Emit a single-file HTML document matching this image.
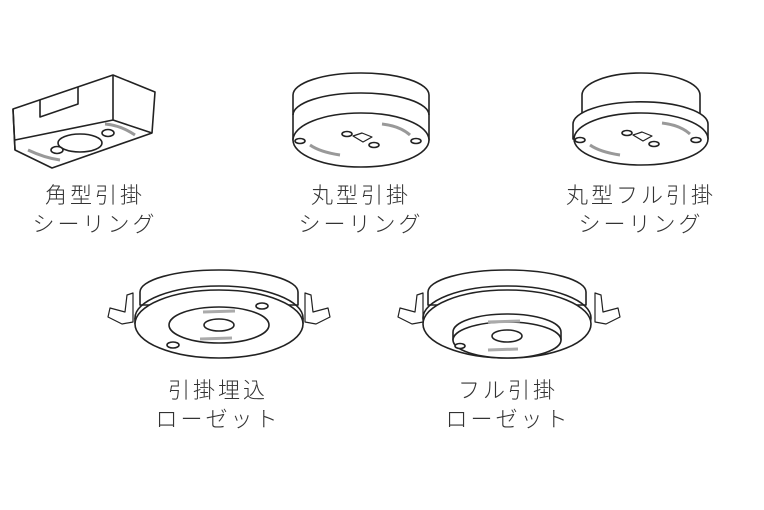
<!DOCTYPE html>
<html><head><meta charset="utf-8"><style>
html,body{margin:0;padding:0;background:#fff;}
svg{display:block}
text{font-family:"Liberation Sans","Noto Sans CJK JP",sans-serif;font-size:22px;fill:#333;text-anchor:middle;letter-spacing:3px;font-weight:300}
</style></head><body>
<svg width="764" height="510" viewBox="0 0 764 510" xmlns="http://www.w3.org/2000/svg">
<g fill="#fff" stroke="#222" stroke-width="1.6" stroke-linejoin="round">
<!-- box -->
<path d="M13,109 L113,75 L155,92 L152,133 L52,168 L15,150 Z"/>
<path d="M113,75 L113,120 L152,133" fill="none"/>
<path d="M15,140 L113,120" fill="none"/>
<path d="M13,109 Q100,100 113,75" fill="none" stroke-width="0"/>
<path d="M40,100 L40,117 L78,104 L78,87" fill="none"/>
<path d="M13,109 L15,150" fill="none"/>
<ellipse cx="80" cy="143" rx="22" ry="9"/>
<ellipse cx="108" cy="133" rx="6" ry="3.5"/>
<ellipse cx="57" cy="150" rx="6" ry="3.5"/>
<path d="M28,150 Q45,158 60,160" fill="none" stroke="#999" stroke-width="3"/>
<path d="M105,124 Q120,125 135,135" fill="none" stroke="#999" stroke-width="3"/>
<!-- round 1 -->
<path d="M293,95 A68,22 0 0 1 429,95 L429,140 L293,140 Z"/>
<path d="M293,115 A68,22 0 0 1 429,115" fill="none"/>
<ellipse cx="361" cy="140" rx="68" ry="27"/>
<path d="M353,136 L362,133 L372,137 L363,142 Z" fill="#fff" stroke-width="1.2"/>
<ellipse cx="347" cy="134" rx="5" ry="2.5"/><ellipse cx="374" cy="145" rx="5" ry="2.5"/>
<ellipse cx="300" cy="141" rx="5" ry="2.5"/><ellipse cx="416" cy="141" rx="5" ry="2.5"/>
<path d="M310,145 Q320,152 340,155" fill="none" stroke="#999" stroke-width="3"/>
<path d="M382,124 Q400,126 410,135" fill="none" stroke="#999" stroke-width="3"/>
<!-- round 2 -->
<path d="M582,95 A59,22 0 0 1 700,95 L700,118 L582,118 Z"/>
<path d="M573,124 A67,22 0 0 1 708,124 L708,139 L573,139 Z"/>
<ellipse cx="641" cy="139" rx="67" ry="26"/>
<path d="M633,135 L642,132 L652,136 L643,141 Z" fill="#fff" stroke-width="1.2"/>
<ellipse cx="627" cy="133" rx="5" ry="2.5"/><ellipse cx="654" cy="144" rx="5" ry="2.5"/>
<ellipse cx="580" cy="140" rx="5" ry="2.5"/><ellipse cx="696" cy="140" rx="5" ry="2.5"/>
<path d="M590,145 Q600,152 620,155" fill="none" stroke="#999" stroke-width="3"/>
<path d="M662,123 Q680,125 690,134" fill="none" stroke="#999" stroke-width="3"/>
<!-- rosette 1 -->
<path d="M108,317 L110,308 L125,312 L127,295 L133,293 L133,322 L122,324 Z" fill="#fff" stroke-width="1.2"/>
<path d="M330,317 L328,308 L313,312 L311,295 L305,293 L305,322 L316,324 Z" fill="#fff" stroke-width="1.2"/>
<path d="M140,292 A79,22 0 0 1 298,292 L298,305 L140,305 Z"/>
<ellipse cx="219" cy="318" rx="84" ry="32" fill="none"/>
<path d="M135,318 L135,324 M303,318 L303,324" fill="none"/>
<ellipse cx="219" cy="324" rx="84" ry="34"/>
<ellipse cx="219" cy="325" rx="50" ry="18"/>
<ellipse cx="219" cy="325" rx="15" ry="6"/>
<ellipse cx="262" cy="306" rx="6" ry="3"/><ellipse cx="173" cy="345" rx="6" ry="3"/>
<path d="M203,312 L235,311 M200,339 L232,338" stroke="#aaa" stroke-width="3"/>
<!-- rosette 2 -->
<path d="M398,317 L400,308 L415,312 L417,295 L423,293 L423,322 L412,324 Z" fill="#fff" stroke-width="1.2"/>
<path d="M620,317 L618,308 L603,312 L601,295 L595,293 L595,322 L606,324 Z" fill="#fff" stroke-width="1.2"/>
<path d="M428,292 A79,22 0 0 1 586,292 L586,305 L428,305 Z"/>
<ellipse cx="507" cy="318" rx="84" ry="32" fill="none"/>
<ellipse cx="507" cy="324" rx="84" ry="34"/>
<path d="M453,332 A54,18 0 0 1 561,332 L561,340 L453,340 Z"/>
<ellipse cx="507" cy="340" rx="54" ry="18"/>
<ellipse cx="507" cy="336" rx="15" ry="6"/>
<ellipse cx="460" cy="346" rx="5" ry="2.5"/>
<path d="M488,322 L520,321 M488,350 L518,349" stroke="#aaa" stroke-width="3"/>
</g>
<text x="95" y="203">角型引掛</text>
<text x="95" y="232">シーリング</text>
<text x="361" y="203">丸型引掛</text>
<text x="361" y="232">シーリング</text>
<text x="641" y="203">丸型フル引掛</text>
<text x="641" y="232">シーリング</text>
<text x="218" y="398">引掛埋込</text>
<text x="218" y="427">ローゼット</text>
<text x="508" y="398">フル引掛</text>
<text x="508" y="427">ローゼット</text>
</svg>
</body></html>
